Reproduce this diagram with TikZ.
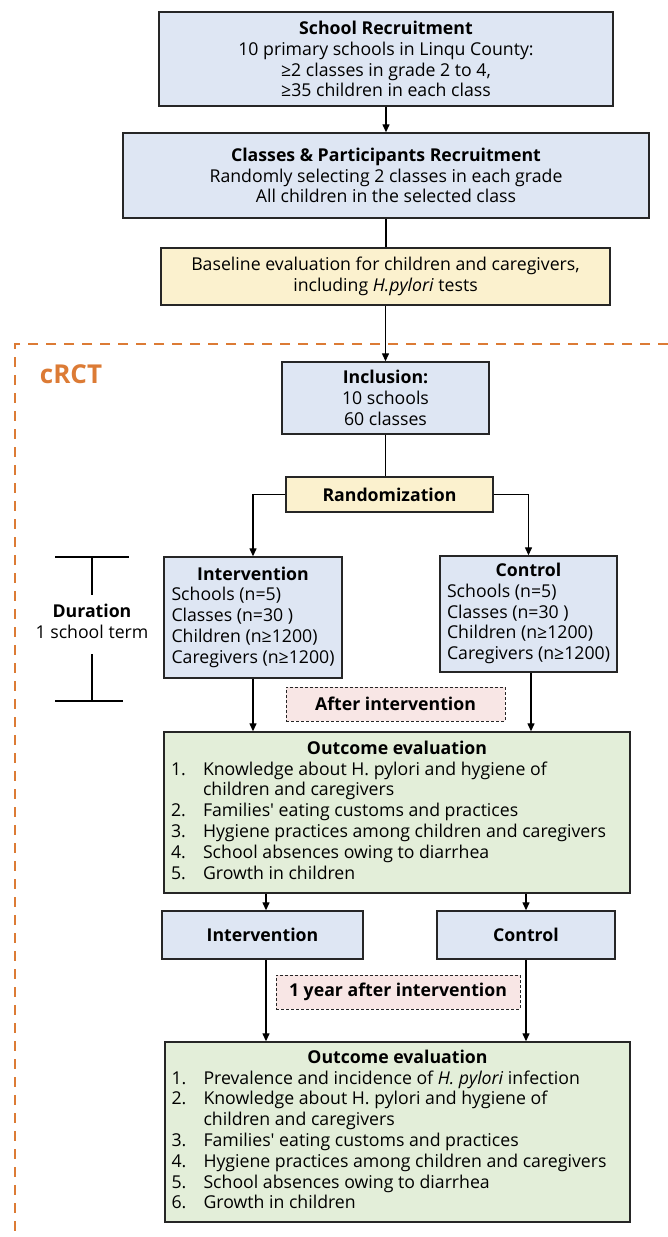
\documentclass[tikz,border=0pt]{standalone}
\usepackage{fontspec}
\setmainfont{Open Sans}
\usepackage{array}
\usepackage[dvipsnames]{xcolor}
\usetikzlibrary{arrows.meta}
\usetikzlibrary{positioning}
\definecolor{boxblue}{HTML}{DEE6F3}
\definecolor{boxyellow}{HTML}{FBF1CE}
\definecolor{boxgreen}{HTML}{E3EED9}
\definecolor{boxpink}{HTML}{F8E6E5}
\definecolor{rctorange}{HTML}{DC7B35}
\tikzset{stagebox/.style = {draw=black!85, line width=1.4, inner sep=0, align=center, font=\fontsize{17.7}{20.8}\selectfont}}
\tikzset{bluebox/.style = {stagebox, fill=boxblue}}
\tikzset{yellowbox/.style = {stagebox, fill=boxyellow}}
\tikzset{greenbox/.style = {stagebox, fill=boxgreen, align=left}}
\tikzset{timebox/.style = {stagebox, fill=boxpink, line width=0.8, dash pattern=on 3pt off 2pt}}
\tikzset{flow/.style = {line width=1.3, -{Triangle[length=8, width=7]}}}
\tikzset{link/.style = {line width=1.3}}
\newcommand{\outlist}[1]{\begin{tabular}{@{}p{32pt}@{}p{420pt}@{}}#1\end{tabular}}

\begin{document}
\begin{tikzpicture}[x=1pt, y=-1pt]
            \useasboundingbox (0,0) rectangle (668,1237);
            % top recruitment steps
            \node [bluebox, minimum width=454, minimum height=94] (recruit) at (386,59) {\textbf{School Recruitment}\\10 primary schools in Linqu County:\\≥2 classes in grade 2 to 4,\\≥35 children in each class};
            \node [bluebox, minimum width=526, minimum height=85] (classes) at (386,175.5) {\textbf{Classes \& Participants Recruitment}\\Randomly selecting 2 classes in each grade\\All children in the selected class};
            \node [yellowbox, minimum width=449, minimum height=57] (baseline) at (385.5,276.5) {Baseline evaluation for children and caregivers,\\including \textit{H.pylori} tests};
            % cRCT frame
            \draw [rctorange, line width=2.4, dash pattern=on 10pt off 8pt] (668,344)--(15,344)--(15,1237);
            \node [text=rctorange, font=\fontsize{26}{30}\selectfont\bfseries] (crct) at (71,374) {cRCT};
            \node [bluebox, minimum width=207, minimum height=72] (incl) at (385.5,398) {\textbf{Inclusion:}\\10 schools\\60 classes};
            \node [yellowbox, minimum width=207, minimum height=35] (random) at (389.5,494.5) {\textbf{Randomization}};
            \node [bluebox, minimum width=178, minimum height=121] (interv) at (253,617.5) {\begin{tabular}{@{}l@{}}\multicolumn{1}{@{}c@{}}{\textbf{Intervention}}\\Schools (n=5)\\Classes (n=30 )\\Children (n≥1200)\\Caregivers (n≥1200)\end{tabular}};
            \node [bluebox, minimum width=177, minimum height=116] (ctrl) at (528.5,614) {\begin{tabular}{@{}l@{}}\multicolumn{1}{@{}c@{}}{\textbf{Control}}\\Schools (n=5)\\Classes (n=30 )\\Children (n≥1200)\\Caregivers (n≥1200)\end{tabular}};
            % duration bracket
            \draw [link] (55,557)--(129,557);
            \draw [link] (92,557)--(92,595);
            \draw [link] (92,654)--(92,701);
            \draw [link] (55,701)--(123,701);
            \node [stagebox, draw=none] (dur) at (92,621) {\textbf{Duration}\\1 school term};
            \node [timebox, minimum width=219, minimum height=34] (after) at (395.5,704) {\textbf{After intervention}};
            \node [greenbox, minimum width=466, minimum height=161] (out1) at (397,812.5) {\outlist{\multicolumn{2}{@{}c@{}}{\textbf{Outcome evaluation}}\\
                1. & Knowledge about H. pylori and hygiene of\\
                   & children and caregivers\\
                2. & Families\textquotesingle\ eating customs and practices\\
                3. & Hygiene practices among children and caregivers\\
                4. & School absences owing to diarrhea\\
                5. & Growth in children}};
            \node [bluebox, minimum width=201, minimum height=48] (interv2) at (262.5,935) {\textbf{Intervention}};
            \node [bluebox, minimum width=178, minimum height=48] (ctrl2) at (526,935) {\textbf{Control}};
            \node [timebox, minimum width=244, minimum height=34] (year) at (398,992) {\textbf{1 year after intervention}};
            \node [greenbox, minimum width=465, minimum height=180] (out2) at (397.5,1132) {\outlist{\multicolumn{2}{@{}c@{}}{\textbf{Outcome evaluation}}\\
                1. & Prevalence and incidence of \textit{H. pylori} infection\\
                2. & Knowledge about H. pylori and hygiene of\\
                   & children and caregivers\\
                3. & Families\textquotesingle\ eating customs and practices\\
                4. & Hygiene practices among children and caregivers\\
                5. & School absences owing to diarrhea\\
                6. & Growth in children}};
            % connectors
            \coordinate (lcol) at (266,0);
            \coordinate (rcol) at (531,0);
            \draw [flow] (recruit)--(classes);
            \draw [link] (classes.south)--(baseline.north -| classes.south);
            \draw [flow] (baseline.south)--(incl.north -| baseline.south);
            \draw [link] (incl.south)--(random.north -| incl.south);
            \draw [flow] (random.west) -| (interv.north);
            \draw [flow] (random.east) -| (ctrl.north);
            \draw [flow] (interv.south)--(out1.north -| interv.south);
            \draw [flow] (ctrl.south -| rcol)--(out1.north -| rcol);
            \draw [flow] (out1.south -| lcol)--(interv2.north -| lcol);
            \draw [flow] (out1.south -| ctrl2.north)--(ctrl2.north);
            \draw [flow] (interv2.south -| lcol)--(out2.north -| lcol);
            \draw [flow] (ctrl2.south)--(out2.north -| ctrl2.south);
        \end{tikzpicture}
\end{document}
